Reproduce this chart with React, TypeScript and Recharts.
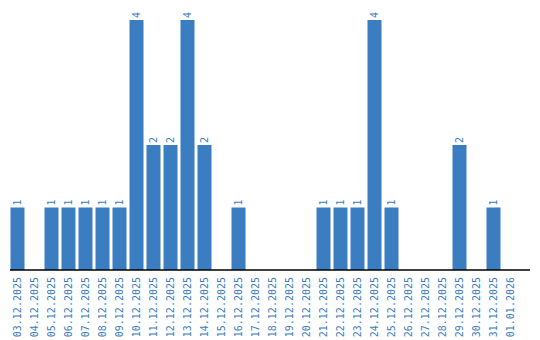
import React from "react";
import { BarChart, Bar, XAxis, YAxis, LabelList } from "recharts";

const categories = [
  "03.12.2025", "04.12.2025", "05.12.2025", "06.12.2025", "07.12.2025",
  "08.12.2025", "09.12.2025", "10.12.2025", "11.12.2025", "12.12.2025",
  "13.12.2025", "14.12.2025", "15.12.2025", "16.12.2025", "17.12.2025",
  "18.12.2025", "19.12.2025", "20.12.2025", "21.12.2025", "22.12.2025",
  "23.12.2025", "24.12.2025", "25.12.2025", "26.12.2025", "27.12.2025",
  "28.12.2025", "29.12.2025", "30.12.2025", "31.12.2025", "01.01.2026",
];
const counts = [
  1, 0, 1, 1, 1, 1, 1, 4, 2, 2,
  4, 2, 0, 1, 0, 0, 0, 0, 1, 1,
  1, 4, 1, 0, 0, 0, 2, 0, 1, 0,
];

const data = categories.map((c, i) => ({ date: c, count: counts[i] }));

const BLUE = "#3b7dc1";
const FONT = "'DejaVu Sans Mono', monospace";

const Tick = (props: any) => {
  const { x, payload } = props;
  return (
    <g transform={`translate(${x},277)`}>
      <text
        x={0}
        y={0}
        dy="0.35em"
        textAnchor="end"
        transform="rotate(-90)"
        fill={BLUE}
        fontSize={10}
        fontFamily={FONT}
      >
        {payload.value}
      </text>
    </g>
  );
};

const ValueLabel = (props: any) => {
  const { x, y, width, value } = props;
  if (!value) return null;
  const cx = x + width / 2;
  const cy = y - 2;
  return (
    <text
      x={0}
      y={0}
      dy="0.35em"
      textAnchor="start"
      transform={`translate(${cx},${cy}) rotate(-90)`}
      fill={BLUE}
      fontSize={10}
      fontFamily={FONT}
    >
      {value}
    </text>
  );
};

export default function App() {
  return (
    <div style={{ position: "fixed", left: 0, top: 0, background: "#fff" }}>
      <BarChart
        width={540}
        height={340}
        data={data}
        margin={{ top: 10, right: 10, bottom: 0, left: 10 }}
        barCategoryGap={1.5}
      >
        <XAxis
          dataKey="date"
          interval={0}
          height={70}
          tickLine={false}
          axisLine={{ stroke: "#000", strokeWidth: 1.5 }}
          tick={<Tick />}
          padding={{ left: -1.5, right: 11.5 }}
        />
        <YAxis
          width={0}
          domain={[0, 4.16]}
          allowDataOverflow
          tick={false}
          tickLine={false}
          axisLine={{ stroke: "#000", strokeWidth: 1.5 }}
        />
        <Bar dataKey="count" fill={BLUE} barSize={14} isAnimationActive={false}>
          <LabelList dataKey="count" content={<ValueLabel />} />
        </Bar>
      </BarChart>
    </div>
  );
}
